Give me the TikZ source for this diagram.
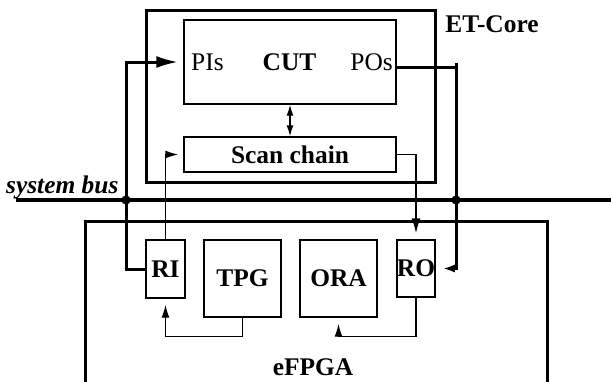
\documentclass[tikz,border=0pt]{standalone}
\usepackage{fontspec}
\setmainfont{Liberation Serif}
\usetikzlibrary{arrows.meta}
\providecommand{\etFont}{\fontsize{25.5}{30}\selectfont}
\providecommand{\etFrameWidth}{3bp}
\providecommand{\etThinWidth}{1.4bp}
\providecommand{\etBusWidth}{3.4bp}
\begin{document}
\begin{tikzpicture}[x=1bp, y=-1bp, line join=miter,
  frame/.style={draw, line width=\etFrameWidth, inner sep=0pt},
  unit/.style={draw, line width=\etThinWidth, inner sep=0pt, font=\etFont\bfseries},
  txt/.style={inner sep=0pt, font=\etFont},
  lbl/.style={inner sep=0pt, font=\etFont\bfseries},
  bus/.style={line width=\etBusWidth},
  wire/.style={line width=\etFrameWidth},
  sig/.style={line width=\etThinWidth},
  tip/.style={-{Latex[length=13bp,width=8bp]}}]
\useasboundingbox (0,0) rectangle (611,381);
% ET-Core with the circuit under test
\node[frame, minimum width=289bp, minimum height=172bp] (etcore) at (290.5,96) {};
\node[unit, minimum width=212bp, minimum height=84bp] (cut) at (290,62) {};
\node[lbl] (cuttxt) at (289.5,62) {CUT};
\node[txt, anchor=west] (pis) at (191,62) {PIs};
\node[txt, anchor=east] (pos) at (393,62) {POs};
\node[unit, minimum width=212bp, minimum height=35bp] (scan) at (290,154.5) {Scan chain};
\node[lbl] (etlabel) at (492,24) {ET-Core};
% eFPGA, bottom edge lies below the page
\draw[line width=\etFrameWidth] (85,390) |- (547,221) -- (547,390);
\node[lbl] (fpgalabel) at (313,367) {eFPGA};
\node[unit, minimum width=39bp, minimum height=58bp] (ri) at (165.5,269) {RI};
\node[unit, minimum width=77bp, minimum height=77bp] (tpg) at (242.5,278.5) {TPG};
\node[unit, minimum width=77bp, minimum height=77bp] (ora) at (338.5,278.5) {ORA};
\node[unit, minimum width=38bp, minimum height=57bp] (ro) at (416,268.5) {RO};
% System bus
\coordinate (busw) at (16,200);
\coordinate (buse) at (611,200);
\coordinate (jl) at (126,200);
\coordinate (jr) at (456,200);
\draw[bus] (busw) -- (buse);
\node[inner sep=0pt, font=\etFont\bfseries\itshape, anchor=base west] (buslabel) at (6,193) {system bus};
% RI to the primary inputs
\draw[wire, -{Latex[length=22bp,width=12bp]}] (ri.west) -- (ri.west -| jl) |- ([xshift=-5bp]cut.west);
% Primary outputs to RO
\coordinate (poout) at ([yshift=-5bp]cut.east);
\coordinate (pobend) at (poout -| jr);
\draw[wire] (poout) -- (pobend);
\draw[wire, -{Latex[length=12bp,width=8bp]}] ([yshift=4bp]pobend) |- ([xshift=7bp]ro.east);
\fill (jl) circle (4.6bp);
\fill (jr) circle (4.6bp);
% Scan path
\draw[sig, {Latex[length=11bp,width=7bp]}-{Latex[length=11bp,width=7bp]}] (cut.south) -- (scan.north);
\draw[sig, tip] (ri.north) |- ([xshift=-5bp]scan.west);
\draw[sig, -{Latex[length=15bp,width=9bp]}] (scan.east) -| ([yshift=6bp]ro.north);
% Inside the eFPGA
\draw[sig, tip] (tpg.south) -- ++(0,19) -| ([yshift=-6bp]ri.south);
\draw[sig, tip] (ro.south) -- ++(0,39) -| ([yshift=-6bp]ora.south);
\end{tikzpicture}
\end{document}
